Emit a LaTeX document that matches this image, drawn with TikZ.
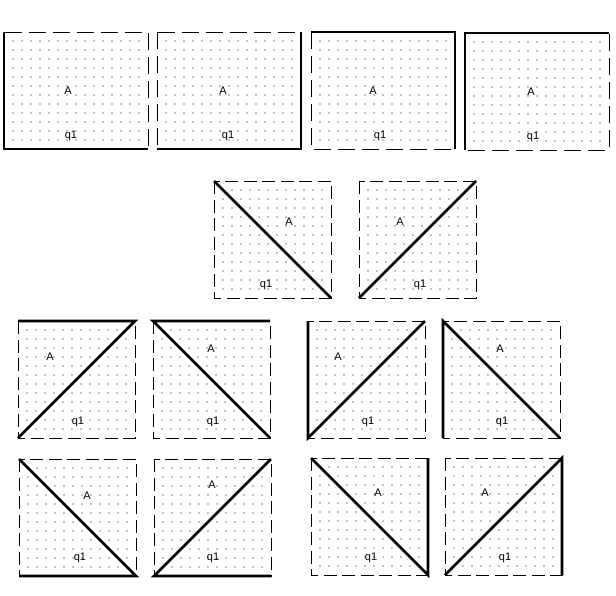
\documentclass[tikz,border=0pt]{standalone}
\usepackage{fontspec}
\setmainfont{Liberation Sans}
\usepackage{tikz}

\tikzset{
  edge/.style={line width=2.6pt, line join=miter},
  lbl/.style={inner sep=0pt, font=\fontsize{11}{13}\selectfont},
}
% dotted cell: x, y, dots across, dots down, dash pattern
\newcommand{\cellgrid}[5]{%
  \foreach \i in {1,...,#3} \foreach \j in {1,...,#4}
    \fill (#1+9*\i,#2+9*\j) circle (0.6);
  \draw[line width=0.8pt, dash pattern=#5] (#1,#2) rectangle ++(9*#3+9,9*#4+9);
}

\begin{document}
\begin{tikzpicture}[x=1pt, y=-1pt]
   \useasboundingbox (0,0) rectangle (616,595);
   \cellgrid{4}{32}{15}{12}{on 17pt off 7pt}
   \cellgrid{157}{32}{15}{12}{on 17pt off 7pt}
   \cellgrid{311}{32}{15}{12}{on 17pt off 7pt}
   \cellgrid{465}{33}{15}{12}{on 17pt off 7pt}
   \draw[edge] (4,32) -- (4,149) -- (148,149);
   \draw[edge] (301,32) -- (301,149) -- (157,149);
   \draw[edge] (311,32) -- (455,32) -- (455,149);
   \draw[edge] (465,150) -- (465,33) -- (609,33);
   \node[lbl] (a1) at (68,91) {A};
   \node[lbl] (q1a) at (71,136) {q1};
   \node[lbl] (a2) at (223,91) {A};
   \node[lbl] (q1b) at (228,136) {q1};
   \node[lbl] (a3) at (373,91) {A};
   \node[lbl] (q1c) at (380,136) {q1};
   \node[lbl] (a4) at (531,92) {A};
   \node[lbl] (q1d) at (533,137) {q1};

   \cellgrid{214}{181}{12}{12}{on 13pt off 5.5pt}
   \cellgrid{359}{181}{12}{12}{on 13pt off 5.5pt}
   \draw[edge] (214,181) -- (331,298);
   \draw[edge] (359,298) -- (476,181);
   \node[lbl] (a5) at (289,222) {A};
   \node[lbl] (q1e) at (266,285) {q1};
   \node[lbl] (a6) at (400,222) {A};
   \node[lbl] (q1f) at (420,285) {q1};

   \cellgrid{18}{321}{12}{12}{on 13pt off 5.5pt}
   \cellgrid{153}{321}{12}{12}{on 13pt off 5.5pt}
   \cellgrid{308}{321}{12}{12}{on 13pt off 5.5pt}
   \cellgrid{443}{321}{12}{12}{on 13pt off 5.5pt}
   \draw[edge] (18,438) -- (135,321) -- (18,321);
   \draw[edge] (270,321) -- (153,321) -- (270,438);
   \draw[edge] (425,321) -- (308,438) -- (308,321);
   \draw[edge] (443,438) -- (443,321) -- (560,438);
   \node[lbl] (a7) at (50,357) {A};
   \node[lbl] (q1g) at (78,422) {q1};
   \node[lbl] (a8) at (211,349) {A};
   \node[lbl] (q1h) at (213,422) {q1};
   \node[lbl] (a9) at (338,357) {A};
   \node[lbl] (q1i) at (368,422) {q1};
   \node[lbl] (a10) at (500,349) {A};
   \node[lbl] (q1j) at (502,422) {q1};

   \cellgrid{19}{459}{12}{12}{on 13pt off 5.5pt}
   \cellgrid{154}{459}{12}{12}{on 13pt off 5.5pt}
   \cellgrid{311}{458}{12}{12}{on 13pt off 5.5pt}
   \cellgrid{445}{458}{12}{12}{on 13pt off 5.5pt}
   \draw[edge] (19,459) -- (136,576) -- (19,576);
   \draw[edge] (271,459) -- (154,576) -- (271,576);
   \draw[edge] (311,458) -- (428,575) -- (428,458);
   \draw[edge] (445,575) -- (562,458) -- (562,575);
   \node[lbl] (a11) at (87,496) {A};
   \node[lbl] (q1k) at (80,558) {q1};
   \node[lbl] (a12) at (212,485) {A};
   \node[lbl] (q1l) at (213,558) {q1};
   \node[lbl] (a13) at (378,493) {A};
   \node[lbl] (q1m) at (371,558) {q1};
   \node[lbl] (a14) at (485,493) {A};
   \node[lbl] (q1n) at (505,558) {q1};
\end{tikzpicture}
\end{document}
